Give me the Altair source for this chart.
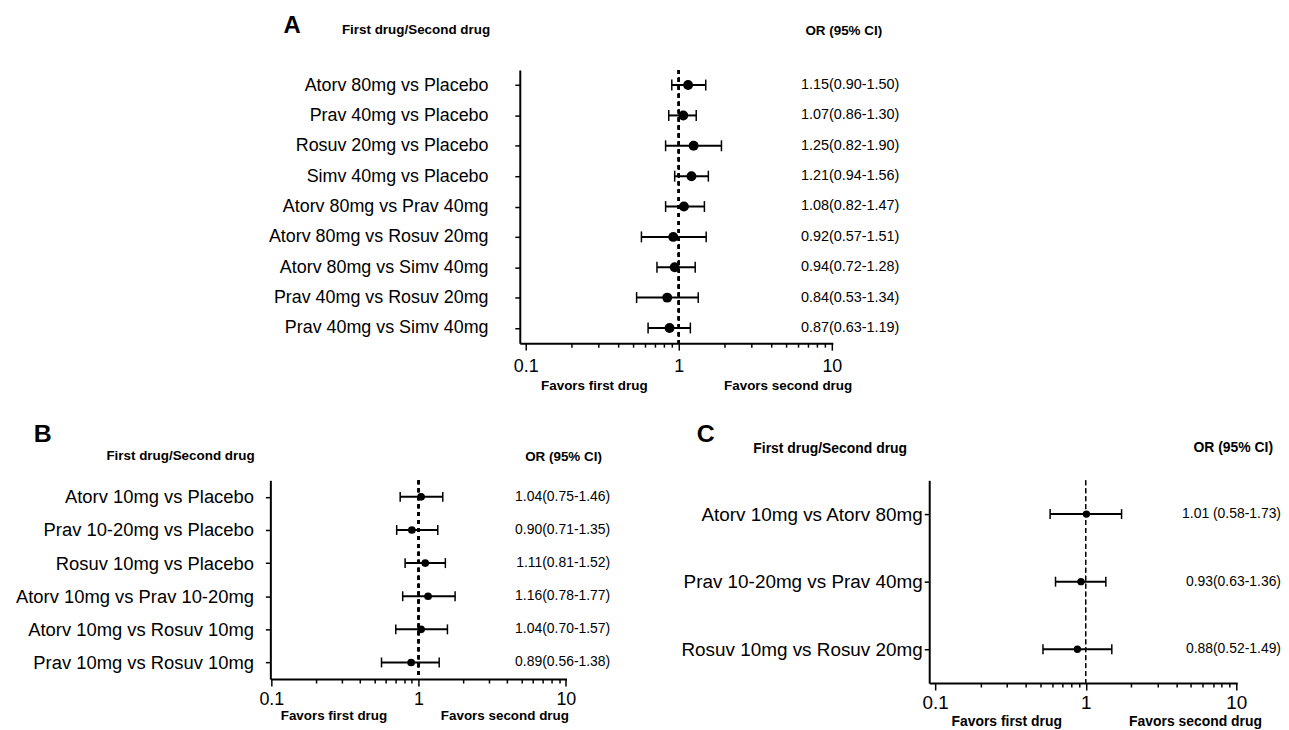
import altair as alt
import pandas as pd

FONT = "Liberation Sans"

# ---------------- Panel A ----------------
labels_A = ["Atorv 80mg vs Placebo", "Prav 40mg vs Placebo", "Rosuv 20mg vs Placebo",
            "Simv 40mg vs Placebo", "Atorv 80mg vs Prav 40mg", "Atorv 80mg vs Rosuv 20mg",
            "Atorv 80mg vs Simv 40mg", "Prav 40mg vs Rosuv 20mg", "Prav 40mg vs Simv 40mg"]
or_A = [1.15, 1.07, 1.25, 1.21, 1.08, 0.92, 0.94, 0.84, 0.87]
lo_A = [0.90, 0.86, 0.82, 0.94, 0.82, 0.57, 0.72, 0.53, 0.63]
hi_A = [1.50, 1.30, 1.90, 1.56, 1.47, 1.51, 1.28, 1.34, 1.19]
text_A = ["1.15(0.90-1.50)", "1.07(0.86-1.30)", "1.25(0.82-1.90)", "1.21(0.94-1.56)",
          "1.08(0.82-1.47)", "0.92(0.57-1.51)", "0.94(0.72-1.28)", "0.84(0.53-1.34)",
          "0.87(0.63-1.19)"]

# ---------------- Panel B ----------------
labels_B = ["Atorv 10mg vs Placebo", "Prav 10-20mg vs Placebo", "Rosuv 10mg vs Placebo",
            "Atorv 10mg vs Prav 10-20mg", "Atorv 10mg vs Rosuv 10mg", "Prav 10mg vs Rosuv 10mg"]
or_B = [1.04, 0.90, 1.11, 1.16, 1.04, 0.89]
lo_B = [0.75, 0.71, 0.81, 0.78, 0.70, 0.56]
hi_B = [1.46, 1.35, 1.52, 1.77, 1.57, 1.38]
text_B = ["1.04(0.75-1.46)", "0.90(0.71-1.35)", "1.11(0.81-1.52)", "1.16(0.78-1.77)",
          "1.04(0.70-1.57)", "0.89(0.56-1.38)"]

# ---------------- Panel C ----------------
labels_C = ["Atorv 10mg vs Atorv 80mg", "Prav 10-20mg vs Prav 40mg", "Rosuv 10mg vs Rosuv 20mg"]
or_C = [1.01, 0.93, 0.88]
lo_C = [0.58, 0.63, 0.52]
hi_C = [1.73, 1.36, 1.49]
text_C = ["1.01 (0.58-1.73)", "0.93(0.63-1.36)", "0.88(0.52-1.49)"]

tick_values = [0.1, 0.2, 0.3, 0.4, 0.5, 0.6, 0.7, 0.8, 0.9,
               1, 2, 3, 4, 5, 6, 7, 8, 9, 10]
major_test = "datum.value == 0.1 || datum.value == 1 || datum.value == 10"
label_expr = "datum.value == 0.1 ? '0.1' : datum.value == 1 ? '1' : datum.value == 10 ? '10' : ''"

one = pd.DataFrame({"k": [0]})


def panel(labels, ors, los, his, texts, W, H, xdomain, letter, letter_xy, letter_size,
          head_xy, head_size, orhead_xy, or_x, fav1_xy, fav2_xy, fav_size,
          label_size, label_pad, or_size, point_size, dash, dash_width, cap_size,
          ci_width, tick_label_size, tick_label_pad):
    df = pd.DataFrame({"label": labels, "or": ors, "lo": los, "hi": his, "txt": texts})
    yscale = alt.Scale(type="point", padding=0.5, domain=labels)
    yaxis = alt.Axis(title=None, labelFont=FONT, labelFontSize=label_size, labelColor="black",
                     labelPadding=label_pad, tickSize=5, tickWidth=1.5, tickColor="black",
                     domainColor="black", domainWidth=2, labelLimit=500, grid=False)
    y = alt.Y("label:N", scale=yscale, axis=yaxis)
    xscale = alt.Scale(type="log", domain=xdomain, nice=False)
    xaxis = alt.Axis(title=None, values=tick_values, labelExpr=label_expr, labelFont=FONT,
                     labelFontSize=tick_label_size, labelColor="black", labelPadding=tick_label_pad,
                     labelFlush=False, labelOverlap=False, grid=False,
                     tickSize={"condition": {"test": major_test, "value": 7}, "value": 4},
                     tickWidth=1.5, tickColor="black", domainColor="black", domainWidth=2)

    def X(field):
        return alt.X(field + ":Q", scale=xscale, axis=xaxis)

    base = alt.Chart(df)
    ref = base.mark_rule(strokeDash=dash, strokeWidth=dash_width, color="black").encode(
        x=alt.XDatum(1, type="quantitative", scale=xscale, axis=xaxis))
    ci = base.mark_rule(strokeWidth=ci_width, color="black").encode(x=X("lo"), x2="hi:Q", y=y)
    cap_lo = base.mark_tick(orient="vertical", size=cap_size, thickness=1.5, color="black",
                            opacity=1).encode(x=X("lo"), y=y)
    cap_hi = base.mark_tick(orient="vertical", size=cap_size, thickness=1.5, color="black",
                            opacity=1).encode(x=X("hi"), y=y)
    pts = base.mark_circle(size=point_size, color="black", opacity=1).encode(x=X("or"), y=y)
    ortext = base.mark_text(align="right", baseline="middle", font=FONT, fontSize=or_size,
                            color="black").encode(y=y, text="txt:N", x=alt.value(or_x))

    t = alt.Chart(one)
    lt = t.mark_text(text=letter, x=letter_xy[0], y=letter_xy[1], font=FONT, fontSize=letter_size,
                     fontWeight="bold", align="center", baseline="middle", color="black")
    hd = t.mark_text(text="First drug/Second drug", x=head_xy[0], y=head_xy[1], font=FONT,
                     fontSize=head_size, fontWeight="bold", align="left", baseline="middle",
                     color="black")
    oh = t.mark_text(text="OR (95% CI)", x=orhead_xy[0], y=orhead_xy[1], font=FONT,
                     fontSize=head_size, fontWeight="bold", align="center", baseline="middle",
                     color="black")
    f1 = t.mark_text(text="Favors first drug", x=fav1_xy[0], y=fav1_xy[1], font=FONT,
                     fontSize=fav_size, fontWeight="bold", align="center", baseline="middle",
                     color="black")
    f2 = t.mark_text(text="Favors second drug", x=fav2_xy[0], y=fav2_xy[1], font=FONT,
                     fontSize=fav_size, fontWeight="bold", align="center", baseline="middle",
                     color="black")
    return alt.layer(ref, ci, cap_lo, cap_hi, pts, ortext, lt, hd, oh, f1, f2).properties(
        width=W, height=H)


pA = panel(labels_A, or_A, lo_A, hi_A, text_A, 315, 275, [0.0914, 10.15],
           "A", (-229, -44), 24, (-179, -40), 13.5, (326, -39), 382,
           (75, 318), (270, 318), 13.5,
           18, 27, 14.5, 100, [4, 4], 2, 11, 2, 18, 8)

pB = panel(labels_B, or_B, lo_B, hi_B, text_B, 298, 200, [0.0985, 10.1],
           "B", (-229, -47), 25, (-165, -24), 13.5, (295, -23), 342,
           (64, 237), (236, 237), 13.5,
           18.5, 12, 14, 60, [4, 4], 2, 10, 2, 18, 5)

pC = panel(labels_C, or_C, lo_C, hi_C, text_C, 310, 204, [0.0913, 10.15],
           "C", (-225, -47), 25, (-177, -31), 14, (306, -32), 354,
           (78, 243), (268, 243), 14,
           19, 2, 14, 55, [5, 3], 1, 10, 2, 19, 4)

spacer = alt.Chart(one).mark_text(text=" ", opacity=0).properties(width=1, height=275)

top = alt.hconcat(spacer, pA, spacing=250, bounds="flush").resolve_scale(
    x="independent", y="independent")
bottom = alt.hconcat(pB, pC, spacing=365, bounds="flush").resolve_scale(
    x="independent", y="independent")

chart = alt.vconcat(top, bottom, spacing=413, bounds="flush").resolve_scale(
    x="independent", y="independent").properties(
    padding={"left": 7, "top": 4, "right": 0, "bottom": 0},
    background="white").configure_view(stroke=None)

chart.save("out.html", embed_options={"renderer": "svg", "actions": False})
